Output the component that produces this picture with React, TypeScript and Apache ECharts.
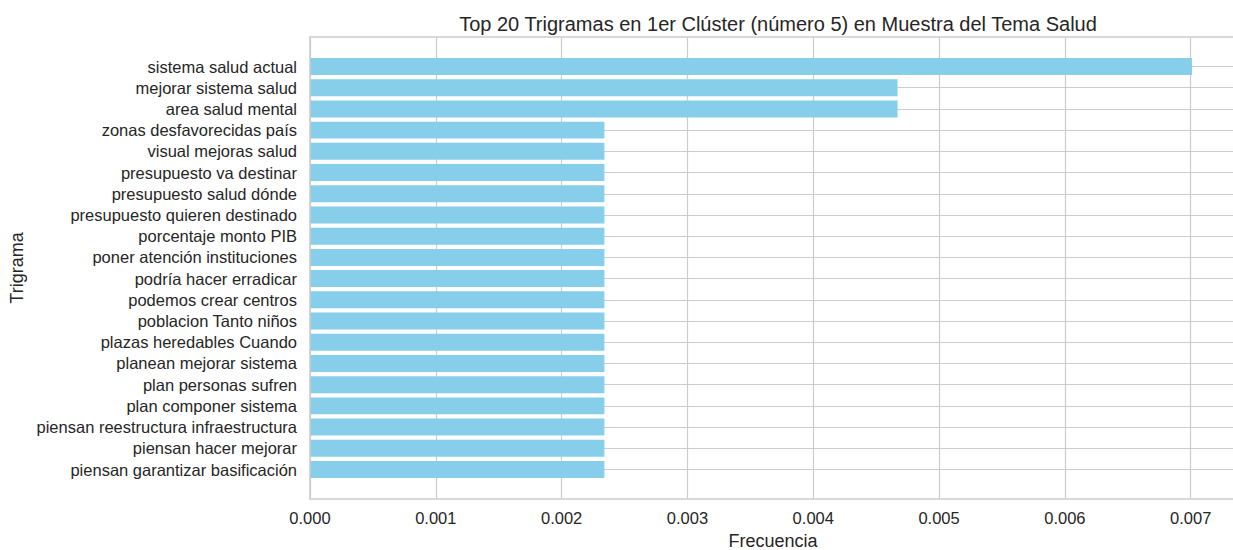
import React, { useEffect, useRef } from "react";
import * as echarts from "echarts";

const categories = [
  "sistema salud actual",
  "mejorar sistema salud",
  "area salud mental",
  "zonas desfavorecidas país",
  "visual mejoras salud",
  "presupuesto va destinar",
  "presupuesto salud dónde",
  "presupuesto quieren destinado",
  "porcentaje monto PIB",
  "poner atención instituciones",
  "podría hacer erradicar",
  "podemos crear centros",
  "poblacion Tanto niños",
  "plazas heredables Cuando",
  "planean mejorar sistema",
  "plan personas sufren",
  "plan componer sistema",
  "piensan reestructura infraestructura",
  "piensan hacer mejorar",
  "piensan garantizar basificación",
];

const frequencies = [
  0.00701, 0.00467, 0.00467, 0.00234, 0.00234, 0.00234, 0.00234, 0.00234,
  0.00234, 0.00234, 0.00234, 0.00234, 0.00234, 0.00234, 0.00234, 0.00234,
  0.00234, 0.00234, 0.00234, 0.00234,
];

const xTickInterval = 0.001;
const xMax = 0.00736;

const titleText =
  "Top 20 Trigramas en 1er Clúster (número 5) en Muestra del Tema Salud";
const xAxisTitle = "Frecuencia";
const yAxisTitle = "Trigrama";

const FONT = "'Liberation Sans', Arial, sans-serif";
const TEXT = "#262626";
const GRID = "#cccccc";

export default function App() {
  const ref = useRef<HTMLDivElement>(null);

  useEffect(() => {
    if (!ref.current) return;
    const chart = echarts.init(ref.current, undefined, { renderer: "svg" });

    const plotLeft = 310;
    const plotTop = 37;
    const plotHeight = 462;
    const plotWidth = 926;
    const firstCenter = 66.5;
    const lastCenter = 469.5;
    const band = (lastCenter - firstCenter) / (categories.length - 1);

    const xBase = {
      type: "value" as const,
      min: 0,
      max: xMax,
      interval: xTickInterval,
    };

    const gridBase = {
      left: plotLeft,
      width: plotWidth,
      containLabel: false,
      outerBoundsMode: "none",
    };

    chart.setOption({
      animation: false,
      backgroundColor: "#ffffff",
      textStyle: { fontFamily: FONT },
      title: {
        text: titleText,
        left: 773,
        textAlign: "center",
        top: 9,
        textStyle: {
          fontFamily: FONT,
          fontSize: 20,
          fontWeight: "normal",
          color: TEXT,
        },
      },
      grid: [
        { ...gridBase, top: plotTop, height: plotHeight },
        { ...gridBase, top: firstCenter, height: lastCenter - firstCenter },
        { ...gridBase, top: firstCenter - band / 2, height: band * categories.length },
      ],
      xAxis: [
        {
          ...xBase,
          gridIndex: 0,
          position: "bottom",
          name: xAxisTitle,
          nameLocation: "middle",
          nameGap: 33,
          nameTextStyle: { fontFamily: FONT, fontSize: 18, color: TEXT },
          axisLine: { show: false },
          axisTick: { show: false },
          axisLabel: {
            fontFamily: FONT,
            fontSize: 16.5,
            color: TEXT,
            margin: 10,
            showMaxLabel: false,
            formatter: (v: number) => v.toFixed(3),
          },
          splitLine: { show: true, lineStyle: { color: GRID, width: 1.2 } },
        },
        { ...xBase, gridIndex: 1, show: false, splitLine: { show: false } },
        { ...xBase, gridIndex: 2, show: false, splitLine: { show: false } },
      ],
      yAxis: [
        {
          type: "value",
          gridIndex: 0,
          min: 0,
          max: 1,
          show: false,
          splitLine: { show: false },
        },
        {
          type: "value",
          gridIndex: 1,
          min: 0,
          max: categories.length - 1,
          interval: 1,
          inverse: true,
          axisLine: { show: false },
          axisTick: { show: false },
          axisLabel: { show: false },
          splitLine: { show: true, lineStyle: { color: GRID, width: 1.2 } },
        },
        {
          type: "category",
          gridIndex: 2,
          data: categories,
          inverse: true,
          name: yAxisTitle,
          nameLocation: "middle",
          nameGap: 284,
          nameRotate: 90,
          nameTextStyle: { fontFamily: FONT, fontSize: 18, color: TEXT },
          axisLine: { show: false },
          axisTick: { show: false },
          axisLabel: {
            fontFamily: FONT,
            fontSize: 16.5,
            color: TEXT,
            margin: 13,
            interval: 0,
          },
          splitLine: { show: false },
        },
      ],
      series: [
        {
          type: "bar",
          xAxisIndex: 2,
          yAxisIndex: 2,
          data: frequencies,
          barWidth: band * 0.8,
          itemStyle: { color: "#87ceeb" },
          z: 3,
        },
      ],
      graphic: [
        {
          type: "rect",
          z: 100,
          silent: true,
          shape: { x: plotLeft, y: plotTop, width: plotWidth, height: plotHeight },
          style: { fill: "none", stroke: GRID, lineWidth: 1.5 },
        },
      ],
    });

    return () => chart.dispose();
  }, []);

  return (
    <div
      ref={ref}
      style={{ position: "fixed", left: 0, top: 0, width: 1233, height: 550 }}
    />
  );
}
